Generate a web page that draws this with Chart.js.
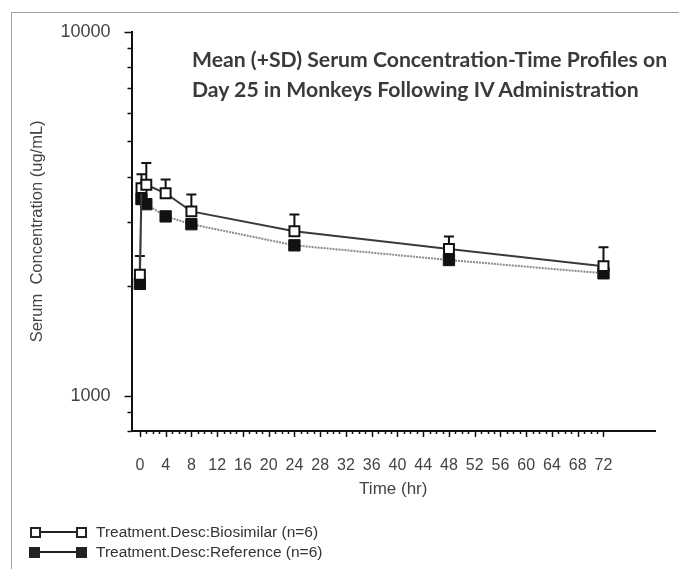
<!DOCTYPE html>
<html>
<head>
<meta charset="utf-8">
<script src="https://cdn.jsdelivr.net/npm/chart.js@4"></script>
<style>
  html, body { margin: 0; padding: 0; background: #fff; }
  #wrap { position: relative; width: 679px; height: 569px; overflow: hidden; }
  #frame { position: absolute; left: 11px; top: 12px; right: -2px; bottom: -2px;
           border-top: 1px solid #a0a0a0; border-left: 1px solid #a0a0a0; }
  #plotTitle { position: absolute; left: 192px; top: 44px; font-family: Lato, sans-serif;
               font-weight: bold; font-size: 21.2px; line-height: 30px; color: #3a3a3a;
               white-space: nowrap; }
  .leg { position: absolute; left: 28px; font-family: "Liberation Sans", Arial, sans-serif;
         font-size: 15.5px; color: #333; height: 20px; line-height: 20px; }
  .leg .line { position: absolute; left: 6px; top: 9px; width: 48px; height: 2px; background: #222; }
  .leg .sq { position: absolute; top: 5px; width: 7px; height: 7px; border: 2px solid #222; background: #fff; }
  .leg .sq.fill { background: #222; width: 9px; height: 9px; border: 1px solid #222; }
  .leg .txt { position: absolute; left: 68px; top: 0; white-space: nowrap; }
</style>
</head>
<body>
<div id="wrap">
  <div id="frame"></div>
  <canvas id="pkChart" width="679" height="569"></canvas>
  <div id="plotTitle">Mean (+SD) Serum Concentration-Time Profiles on<br>Day 25 in Monkeys Following IV Administration</div>
  <div class="leg" style="top:522px"><div class="line"></div><div class="sq" style="left:2px"></div><div class="sq" style="left:48px"></div><div class="txt">Treatment.Desc:Biosimilar (n=6)</div></div>
  <div class="leg" style="top:542px"><div class="line"></div><div class="sq fill" style="left:1px"></div><div class="sq fill" style="left:48px"></div><div class="txt">Treatment.Desc:Reference (n=6)</div></div>
</div>
<script>
// sampling times (hr) and mean concentrations (ug/mL)
const timesHr = [0, 0.25, 1, 4, 8, 24, 48, 72];
const biosimilarMean = [2150, 3720, 3800, 3600, 3210, 2830, 2530, 2270];
const biosimilarUpper = [2420, 4060, 4360, 3930, 3570, 3150, 2740, 2560]; // mean + SD
const referenceMean = [2030, 3470, 3360, 3110, 2960, 2590, 2360, 2170];
const xTickValues = Array.from({length: 73}, (_, i) => i); // 0..72 every hour
const yTickValues = [800, 900, 1000, 2000, 3000, 4000, 5000, 6000, 7000, 8000, 9000, 10000];
const yLabelled = [1000, 10000];

const toPoints = (ys) => timesHr.map((t, i) => ({x: t, y: ys[i]}));

// upward SD whiskers for the biosimilar group
const sdBars = {
    id: 'sdBars',
    beforeDatasetsDraw(chart) {
        const {ctx, scales: {x, y}} = chart;
        ctx.save();
        ctx.strokeStyle = '#111';
        ctx.lineWidth = 2;
        timesHr.forEach((t, i) => {
            const px = x.getPixelForValue(t);
            const py = y.getPixelForValue(biosimilarMean[i]);
            const top = y.getPixelForValue(biosimilarUpper[i]);
            ctx.beginPath();
            ctx.moveTo(px, py);
            ctx.lineTo(px, top);
            ctx.moveTo(px - 5, top);
            ctx.lineTo(px + 5, top);
            ctx.stroke();
        });
        ctx.restore();
    }
};

// outward tick marks, longer for the major ones
const tickMarks = {
    id: 'tickMarks',
    afterDraw(chart) {
        const {ctx, scales: {x, y}, chartArea} = chart;
        ctx.save();
        ctx.strokeStyle = '#111';
        ctx.lineWidth = 1.5;
        ctx.beginPath();
        xTickValues.forEach(v => {
            const px = Math.round(x.getPixelForValue(v)) + 0.5;
            const len = v % 4 === 0 ? 6 : 3;
            ctx.moveTo(px, chartArea.bottom);
            ctx.lineTo(px, chartArea.bottom + len);
        });
        yTickValues.forEach(v => {
            const py = Math.round(y.getPixelForValue(v)) + 0.5;
            const len = yLabelled.includes(v) ? 7 : 4;
            ctx.moveTo(chartArea.left, py);
            ctx.lineTo(chartArea.left - len, py);
        });
        ctx.stroke();
        ctx.restore();
    }
};

new Chart(document.getElementById('pkChart'), {
    type: 'line',
    data: {
        datasets: [{
            label: 'Treatment.Desc:Biosimilar (n=6)',
            data: toPoints(biosimilarMean),
            borderColor: '#3a3a3a',
            borderWidth: 2,
            pointStyle: 'rect',
            pointRadius: 7,
            pointBorderWidth: 2,
            pointBorderColor: '#111',
            pointBackgroundColor: '#fff',
            tension: 0
        }, {
            label: 'Treatment.Desc:Reference (n=6)',
            data: toPoints(referenceMean),
            borderColor: '#8a8a8a',
            borderWidth: 2,
            borderDash: [2, 1],
            pointStyle: 'rect',
            pointRadius: 8,
            pointBorderWidth: 1,
            pointBorderColor: '#111',
            pointBackgroundColor: '#111',
            tension: 0
        }]
    },
    options: {
        responsive: false,
        animation: false,
        layout: { padding: { top: 30, right: 24, bottom: 68, left: 0 } },
        plugins: {
            legend: { display: false },
            tooltip: { enabled: false }
        },
        scales: {
            x: {
                type: 'linear',
                min: -1.3,
                max: 80,
                afterBuildTicks: (scale) => { scale.ticks = xTickValues.map(v => ({value: v})); },
                afterFit: (scale) => { scale.height = 70; },
                grid: { display: false, drawTicks: false },
                border: { color: '#111', width: 2 },
                ticks: {
                    autoSkip: false,
                    maxRotation: 0,
                    padding: 25,
                    color: '#444',
                    font: { family: 'Liberation Sans', size: 16 },
                    callback: (v) => v % 4 === 0 ? String(v) : ''
                },
                title: {
                    display: true,
                    text: 'Time (hr)',
                    color: '#444',
                    font: { family: 'Liberation Sans', size: 17 },
                    padding: { top: 0, bottom: 1 }
                }
            },
            y: {
                type: 'logarithmic',
                min: 800,
                max: 10000,
                afterBuildTicks: (scale) => { scale.ticks = yTickValues.map(v => ({value: v})); },
                afterFit: (scale) => { scale.width = 131.5; },
                grid: { display: false, drawTicks: false },
                border: { color: '#111', width: 2 },
                ticks: {
                    autoSkip: false,
                    padding: 21,
                    color: '#444',
                    font: { family: 'Liberation Sans', size: 18 },
                    callback: (v) => yLabelled.includes(v) ? String(v) : ''
                },
                title: {
                    display: true,
                    text: 'Serum  Concentration (ug/mL)',
                    color: '#444',
                    font: { family: 'Liberation Sans', size: 16.5 },
                    padding: { top: 28, bottom: 0 }
                }
            }
        }
    },
    plugins: [sdBars, tickMarks]
});
</script>
</body>
</html>
